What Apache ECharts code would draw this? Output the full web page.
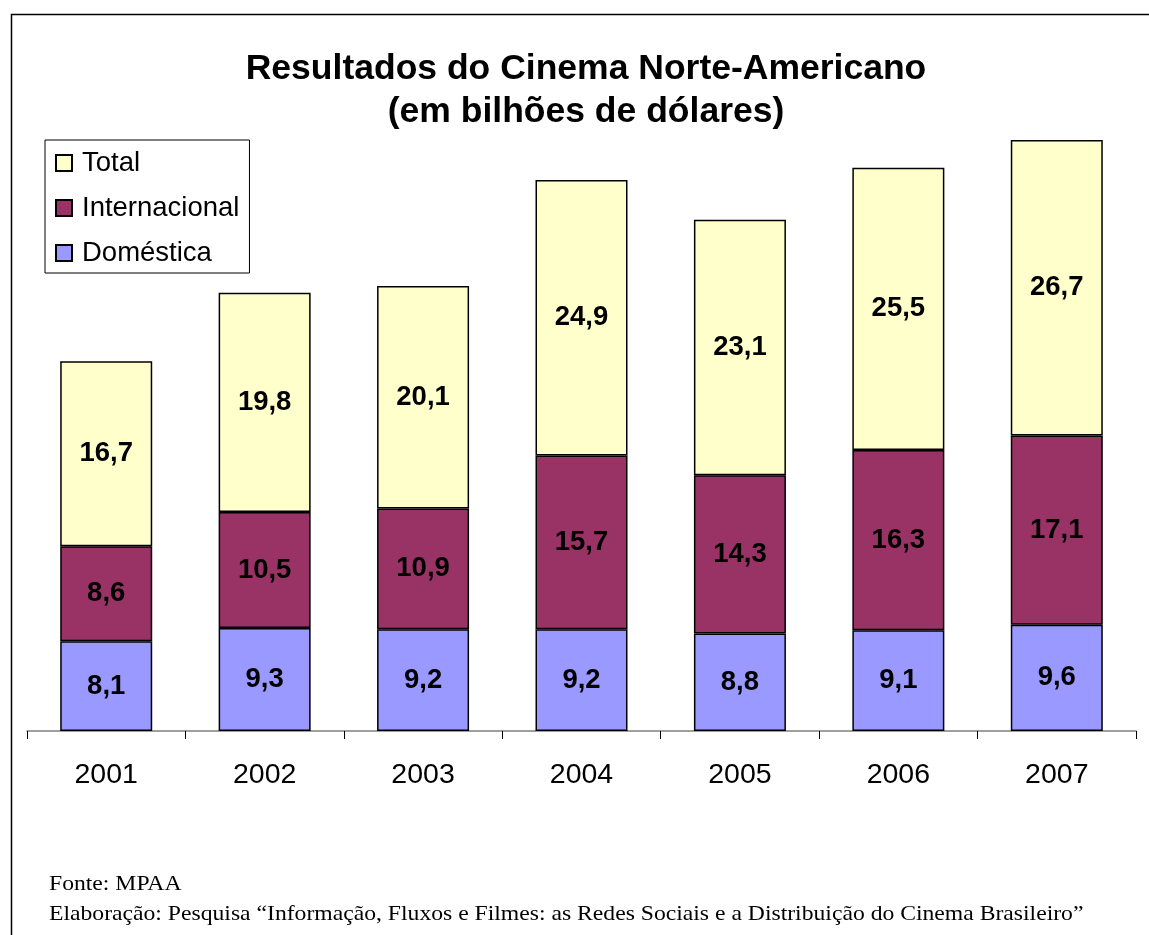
<!DOCTYPE html>
<html>
<head>
<meta charset="utf-8">
<script src="https://cdn.jsdelivr.net/npm/echarts@6/dist/echarts.min.js"></script>
<style>
  html, body { margin: 0; padding: 0; background: #fff; }
  #chart { width: 1149px; height: 935px; }
</style>
</head>
<body>
<div id="chart"></div>
<script>
var anos = ['2001', '2002', '2003', '2004', '2005', '2006', '2007'];
var domestica = [8.1, 9.3, 9.2, 9.2, 8.8, 9.1, 9.6];
var internacional = [8.6, 10.5, 10.9, 15.7, 14.3, 16.3, 17.1];
var total = [16.7, 19.8, 20.1, 24.9, 23.1, 25.5, 26.7];

function rotulo(p) {
    return String(p.value).replace('.', ',');
}

var labelStyle = {
    show: true,
    position: 'inside',
    formatter: rotulo,
    color: '#000',
    fontFamily: 'Liberation Sans, Arial',
    fontWeight: 'bold',
    fontSize: 27.5
};

echarts.init(document.getElementById('chart')).setOption({
    animation: false,
    title: {
        text: 'Resultados do Cinema Norte-Americano\n(em bilhões de dólares)',
        left: 581,
        top: 43,
        textAlign: 'center',
        textStyle: {
            fontFamily: 'Liberation Sans, Arial',
            fontWeight: 'bold',
            fontSize: 35.5,
            lineHeight: 43,
            color: '#000'
        }
    },
    legend: {
        data: ['Total', 'Internacional', 'Doméstica'],
        orient: 'vertical',
        left: 45,
        top: 140,
        padding: [9, 10, 6, 10],
        itemGap: 17,
        itemWidth: 16,
        itemHeight: 16,
        icon: 'rect',
        borderColor: '#000',
        borderWidth: 1,
        textStyle: {
            fontFamily: 'Liberation Sans, Arial',
            fontSize: 27.5,
            color: '#000',
            padding: [0, 0, 0, 5]
        }
    },
    grid: {
        left: 27,
        right: 13,
        top: 67,
        bottom: 204
    },
    xAxis: {
        type: 'category',
        data: anos,
        axisLine: { lineStyle: { color: '#808080', width: 1.5 } },
        axisTick: { show: true, length: 8, lineStyle: { color: '#000' } },
        axisLabel: {
            margin: 30,
            fontFamily: 'Liberation Sans, Arial',
            fontSize: 28.5,
            color: '#000'
        }
    },
    yAxis: {
        type: 'value',
        min: 0,
        max: 60,
        show: false,
        splitLine: { show: false }
    },
    series: [
        {
            name: 'Doméstica',
            type: 'bar',
            stack: 'a',
            barWidth: 92,
            data: domestica,
            itemStyle: { color: '#9999FF', borderColor: '#000', borderWidth: 1.5 },
            label: labelStyle
        },
        {
            name: 'Internacional',
            type: 'bar',
            stack: 'a',
            data: internacional,
            itemStyle: { color: '#993366', borderColor: '#000', borderWidth: 1.5 },
            label: labelStyle
        },
        {
            name: 'Total',
            type: 'bar',
            stack: 'a',
            data: total,
            itemStyle: { color: '#FFFFCC', borderColor: '#000', borderWidth: 1.5 },
            label: labelStyle
        }
    ],
    graphic: [
        {
            type: 'rect',
            left: 9,
            top: 12,
            shape: { width: 1160, height: 940 },
            style: { fill: 'none', stroke: '#000', lineWidth: 1.5 },
            silent: true
        },
        {
            type: 'text',
            x: 49,
            y: 873,
            scaleX: 1.075,
            style: {
                text: 'Fonte: MPAA',
                font: '22px "Liberation Serif", "Times New Roman"',
                fill: '#000'
            }
        },
        {
            type: 'text',
            x: 49,
            y: 903,
            scaleX: 1.075,
            style: {
                text: 'Elaboração: Pesquisa “Informação, Fluxos e Filmes: as Redes Sociais e a Distribuição do Cinema Brasileiro”',
                font: '22px "Liberation Serif", "Times New Roman"',
                fill: '#000'
            }
        }
    ]
});
</script>
</body>
</html>
